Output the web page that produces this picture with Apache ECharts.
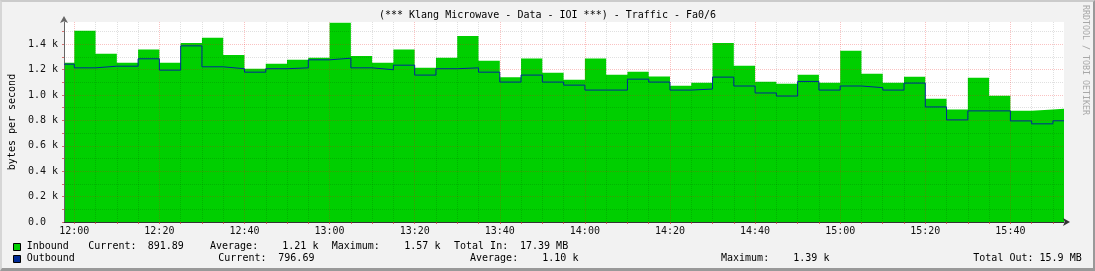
<!DOCTYPE html>
<html><head><meta charset="utf-8">
<script src="https://cdn.jsdelivr.net/npm/echarts@6/dist/echarts.min.js"></script>
<style>
html,body{margin:0;padding:0;background:#f2f2f2;}
#wrap{position:relative;width:1095px;height:271px;}
#chart{position:absolute;left:0;top:0;width:1095px;height:271px;}
#frame{position:absolute;left:0;top:0;width:1095px;height:271px;box-sizing:border-box;border-top:2px solid #cbcbcb;border-left:2px solid #d6d6d6;border-right:2px solid #999;border-bottom:3px solid #999;pointer-events:none;}
</style></head><body>
<div id="wrap"><div id="chart"></div><div id="frame"></div></div>
<script>
// ---- data ----
const startTimes = ['11:57:35','12:00','12:05','12:10','12:15','12:20','12:25','12:30','12:35','12:40','12:45','12:50','12:55',
  '13:00','13:05','13:10','13:15','13:20','13:25','13:30','13:35','13:40','13:45','13:50','13:55',
  '14:00','14:05','14:10','14:15','14:20','14:25','14:30','14:35','14:40','14:45','14:50','14:55',
  '15:00','15:05','15:10','15:15','15:20','15:25','15:30','15:35','15:40','15:45','15:50'];
const endTime = '15:52:36';
const inbound = [1255,1507,1324,1254,1358,1254,1410,1450,1316,1207,1246,1277,1293,1570,1308,1254,1358,1214,1293,1465,
  1269,1139,1288,1175,1120,1288,1159,1183,1146,1073,1097,1410,1230,1105,1089,1159,1097,1348,1167,1097,1144,971,885,1136,995,877,885,892];
const outbound = [1243,1214,1227,1227,1285,1196,1387,1222,1207,1180,1207,1214,1277,1290,1214,1199,1235,1157,1207,1214,
  1180,1102,1157,1102,1078,1039,1039,1125,1102,1039,1047,1141,1071,1016,992,1107,1039,1071,1058,1039,1094,906,804,875,875,796,773,797];
const xTickLabels = ['12:00','12:20','12:40','13:00','13:20','13:40','14:00','14:20','14:40','15:00','15:20','15:40'];
const yGridTicks = [0,100,200,300,400,500,600,700,800,900,1000,1100,1200,1300,1400,1500];
const yMajorTicks = [0,200,400,600,800,1000,1200,1400];
const yTickLabels = ['0.0','0.2 k','0.4 k','0.6 k','0.8 k','1.0 k','1.2 k','1.4 k'];
const yMax = 1575;
const titleText = '(*** Klang Microwave - Data - IOI ***) - Traffic - Fa0/6';
const yAxisTitle = 'bytes per second';
const seriesNames = ['Inbound','Outbound'];
const statLabelsIn = ['Current:','Average:','Maximum:','Total In:'];
const statLabelsOut = ['Current:','Average:','Maximum:','Total Out:'];
const inboundStats = ['891.89','1.21 k','1.57 k','17.39 MB'];
const outboundStats = ['796.69','1.10 k','1.39 k','15.9 MB'];
const watermark = 'RRDTOOL / TOBI OETIKER';

// ---- layout / style ----
const FONT = '"DejaVu Sans Mono", monospace';
const IN_COLOR = '#00CF00', OUT_COLOR = '#002A97';
const MINOR = 'rgba(0,0,0,0.12)', MAJOR = 'rgba(235,20,20,0.26)';
const row1Y = 246.7, row2Y = 258.3;
const row1X = {label:[88.3,210,331.7,454], value:[147.7,282.3,404.3,520]};
const row2X = {label:[218.3,470,721,973.3], value:[278.3,542.3,793.3,1040]};

const toMin = s => { const p = s.split(':').map(Number); return (p[0]-12)*60 + p[1] + (p[2]||0)/60; };
const xs = startTimes.map(toMin);
const xMin = xs[0], xMax = toMin(endTime);
const mk = vals => vals.map((v,i)=>[xs[i], v]).concat([[xMax, vals[vals.length-1]]]);
const xMajor = xTickLabels.map(toMin);
const xGrid = startTimes.slice(1).map(toMin);   // every 5-minute step boundary
const xGridColors = xGrid.map(m => xMajor.some(M => Math.abs(M-m) < 1e-6) ? MAJOR : MINOR);
const yGridColors = yGridTicks.map(v => yMajorTicks.indexOf(v) >= 0 ? MAJOR : MINOR);

const txt = (text, x, y, extra) => ({type:'text', silent:true, style:Object.assign({
  text, x, y, font:'10px '+FONT, fill:'#000', verticalAlign:'middle', align:'left'}, extra||{})});

const graphics = [
  txt(titleText, 547.5, 15.7, {align:'center'}),
  {type:'text', silent:true, x:1085, y:60, rotation:-Math.PI/2,
   style:{text:watermark, x:0, y:0, font:'8.3px '+FONT, fill:'#a8a8a8', align:'center', verticalAlign:'middle'}},
  {type:'rect', silent:true, shape:{x:13.5, y:243.5, width:7, height:7}, style:{fill:IN_COLOR, stroke:'#000', lineWidth:1}},
  {type:'rect', silent:true, shape:{x:13.5, y:255.5, width:7, height:7}, style:{fill:OUT_COLOR, stroke:'#000', lineWidth:1}},
  txt(seriesNames[0], 26.7, row1Y),
  txt(seriesNames[1], 26.7, row2Y)
];
statLabelsIn.forEach((l,i) => graphics.push(txt(l, row1X.label[i], row1Y)));
inboundStats.forEach((v,i) => graphics.push(txt(v, row1X.value[i], row1Y)));
statLabelsOut.forEach((l,i) => { if (i < 3) graphics.push(txt(l, row2X.label[i], row2Y)); });
outboundStats.forEach((v,i) => { if (i < 3) graphics.push(txt(v, row2X.value[i], row2Y)); });
graphics.push(txt(statLabelsOut[3] + ' ' + outboundStats[3], row2X.label[3], row2Y));

const chart = echarts.init(document.getElementById('chart'), null, {renderer:'canvas'});
chart.setOption({
  animation:false,
  backgroundColor:'#f2f2f2',
  grid:{left:64, right:31, top:22, bottom:49, show:true, backgroundColor:'#ffffff', borderWidth:0, containLabel:false, outerBoundsMode:'none'},
  xAxis:{
    type:'value', min:xMin, max:xMax, z:5,
    splitLine:{show:true, lineStyle:{color:xGridColors, width:1, type:[1,1]}},
    axisLine:{show:true, onZero:false, lineStyle:{color:'#333', width:1}, symbol:['none','arrow'], symbolSize:[6,7], symbolOffset:[0,6]},
    axisTick:{show:true, customValues:xGrid, length:2, lineStyle:{color:xGridColors.map(c => c === MAJOR ? 'rgba(200,0,0,0.6)' : 'rgba(0,0,0,0)')}},
    axisLabel:{customValues:xMajor, margin:4, color:'#111', fontFamily:FONT, fontSize:10,
      formatter: v => { const i = xMajor.findIndex(M => Math.abs(M-v) < 1e-6); return i >= 0 ? xTickLabels[i] : ''; }}
  },
  yAxis:{
    type:'value', min:0, max:yMax, z:5,
    name:yAxisTitle, nameLocation:'middle', nameGap:47, nameRotate:90,
    nameTextStyle:{color:'#000', fontFamily:FONT, fontSize:10},
    splitLine:{show:true, lineStyle:{color:yGridColors, width:1, type:[1,1]}},
    axisLine:{show:true, onZero:false, lineStyle:{color:'#666', width:1}, symbol:['none','arrow'], symbolSize:[6,7], symbolOffset:[0,6]},
    axisTick:{show:true, customValues:yGridTicks, length:2, lineStyle:{color:'rgba(200,60,60,0.7)'}},
    axisLabel:{customValues:yMajorTicks, align:'left', margin:36, color:'#111', fontFamily:FONT, fontSize:10,
      formatter: v => { const i = yMajorTicks.indexOf(Math.round(v)); return i >= 0 ? yTickLabels[i] : ''; }}
  },
  series:[
    {name:seriesNames[0], type:'line', step:'end', data:mk(inbound), symbol:'none', showSymbol:false,
     lineStyle:{width:0, color:IN_COLOR}, itemStyle:{color:IN_COLOR}, areaStyle:{color:IN_COLOR, opacity:1},
     silent:true, z:2},
    {name:seriesNames[1], type:'line', step:'end', data:mk(outbound), symbol:'none', showSymbol:false,
     lineStyle:{width:1, color:OUT_COLOR}, itemStyle:{color:OUT_COLOR}, silent:true, z:6}
  ],
  graphic:graphics
});
</script>
</body></html>
